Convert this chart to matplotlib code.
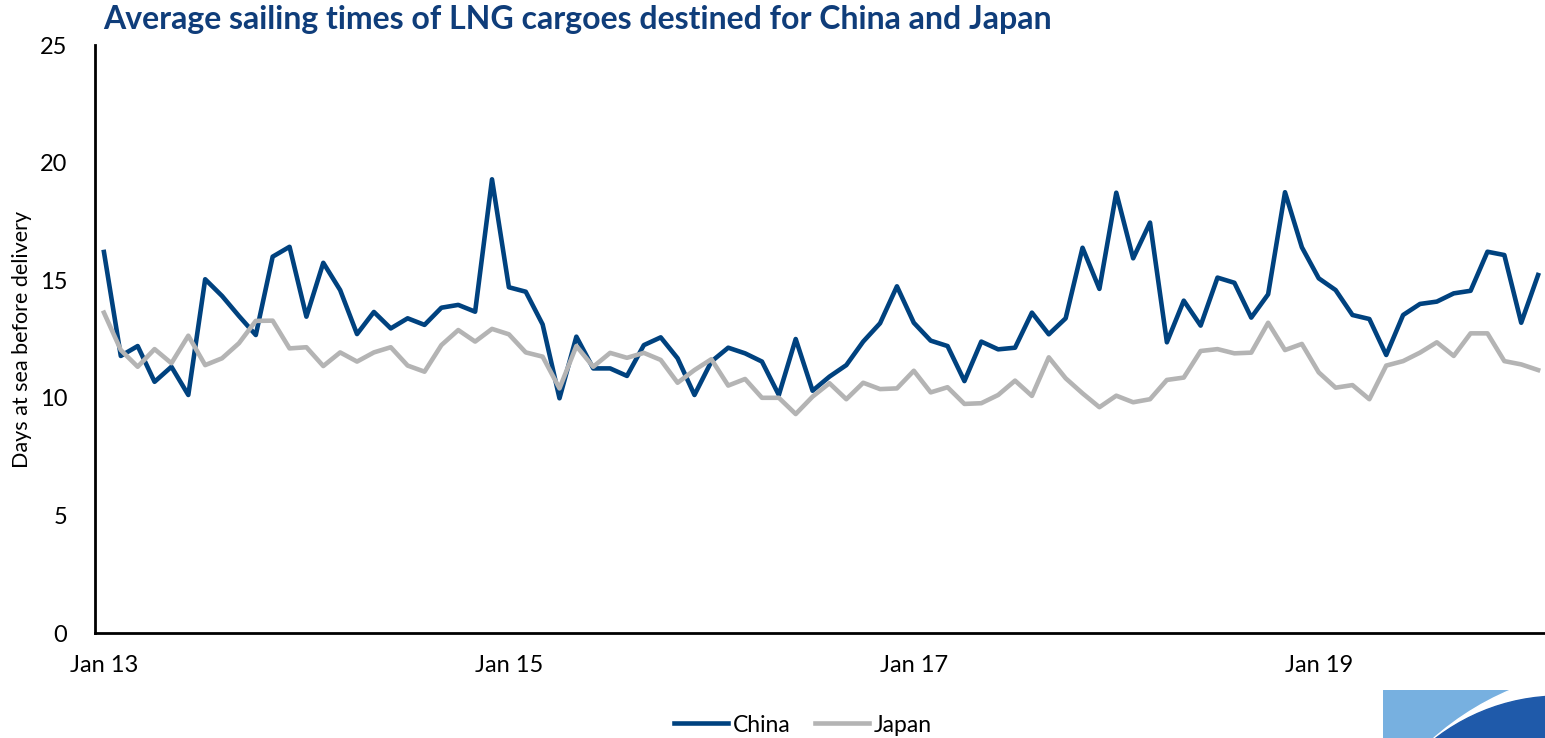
import matplotlib.pyplot as plt
from matplotlib.patches import Rectangle, Circle

# Monthly average days at sea, Jan 2013 - Feb 2020
china = [16.2, 11.78, 12.2, 10.68, 11.32, 10.12, 15.04, 14.33, 13.48, 12.67,
         16.0, 16.42, 13.45, 15.74, 14.58, 12.71, 13.65, 12.95, 13.38, 13.1,
         13.83, 13.95, 13.66, 19.29, 14.7, 14.51, 13.12, 9.98, 12.6, 11.25,
         11.25, 10.93, 12.24, 12.57, 11.68, 10.12, 11.54, 12.13, 11.89, 11.54,
         10.12, 12.5, 10.3, 10.9, 11.39, 12.39, 13.17, 14.74, 13.19, 12.43,
         12.2, 10.71, 12.39, 12.06, 12.13, 13.62, 12.7, 13.38, 16.38, 14.63,
         18.72, 15.93, 17.45, 12.36, 14.13, 13.07, 15.11, 14.89, 13.41, 14.4,
         18.74, 16.4, 15.08, 14.58, 13.52, 13.35, 11.82, 13.52, 13.99, 14.09,
         14.44, 14.55, 16.21, 16.07, 13.19, 15.22]
japan = [13.62, 12.03, 11.32, 12.07, 11.47, 12.64, 11.39, 11.68, 12.32, 13.27,
         13.28, 12.1, 12.15, 11.35, 11.93, 11.54, 11.93, 12.15, 11.37, 11.11,
         12.24, 12.88, 12.39, 12.93, 12.7, 11.93, 11.75, 10.4, 12.2, 11.32,
         11.91, 11.7, 11.91, 11.61, 10.64, 11.18, 11.64, 10.52, 10.8, 10.0,
         10.0, 9.31, 10.05, 10.62, 9.94, 10.64, 10.37, 10.4, 11.15, 10.23,
         10.45, 9.74, 9.77, 10.12, 10.73, 10.08, 11.72, 10.83, 10.19, 9.6,
         10.09, 9.81, 9.94, 10.76, 10.86, 11.99, 12.07, 11.89, 11.92, 13.19,
         12.03, 12.29, 11.08, 10.43, 10.54, 9.94, 11.37, 11.56, 11.92, 12.36,
         11.78, 12.74, 12.74, 11.56, 11.42, 11.18]
tick_pos = [0, 24, 48, 72]
tick_labels = ['Jan 13', 'Jan 15', 'Jan 17', 'Jan 19']

plt.rcParams['font.family'] = ['Lato', 'DejaVu Sans']

fig = plt.figure(figsize=(15.45, 7.38), dpi=100)
ax = fig.add_axes([95 / 1545, 1 - 633 / 738, 1 - 95 / 1545, (633 - 45) / 738])

x = list(range(len(china)))
ax.plot(x, china, color='#00427F', lw=3.3, label='China', solid_joinstyle='round')
ax.plot(x, japan, color='#B4B4B4', lw=3.3, label='Japan', solid_joinstyle='round')

ax.set_xlim(-0.53, 85.41)
ax.set_ylim(0, 25)
ax.set_yticks([0, 5, 10, 15, 20, 25])
ax.set_xticks(tick_pos)
ax.set_xticklabels(tick_labels)
ax.tick_params(axis='both', length=0, labelsize=17, colors='black')
ax.tick_params(axis='y', pad=20)
ax.tick_params(axis='x', pad=16)
for s in ['top', 'right']:
    ax.spines[s].set_visible(False)
for s in ['left', 'bottom']:
    ax.spines[s].set_linewidth(2)

ax.set_ylabel('Days at sea before delivery', fontsize=15.5)
ax.yaxis.set_label_coords(-63 / 1450, 0.5)

fig.text(103 / 1545, 1 - 20 / 738, 'Average sailing times of LNG cargoes destined for China and Japan',
         fontsize=23, fontweight='bold', color='#0F3D7A', va='center', ha='left')

fig.legend(loc='center', bbox_to_anchor=(803 / 1545, 1 - 725 / 738), ncol=2,
           frameon=False, fontsize=16.5, handlelength=2.35, columnspacing=1.1,
           handletextpad=0.2)

# logo corner
lax = fig.add_axes([1383 / 1545, 0, 162 / 1545, 48 / 738])
lax.set_xlim(1383, 1545)
lax.set_ylim(738, 690)
lax.axis('off')
lax.add_patch(Rectangle((1383, 690), 162, 48, color='#77B0E0'))
lax.add_patch(Circle((1620, 950), 282, color='white'))
lax.add_patch(Circle((1560, 900), 204, color='#1F5AAA'))

fig.savefig('out.png', dpi=100)
